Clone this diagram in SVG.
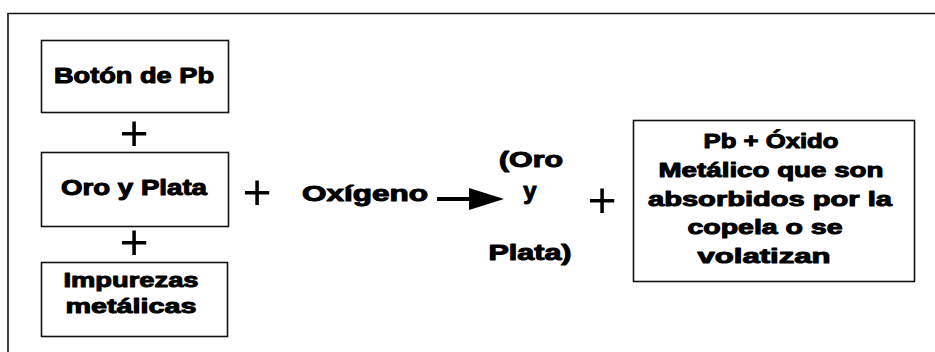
<svg xmlns="http://www.w3.org/2000/svg" width="935" height="352" viewBox="0 0 935 352">
<style>
.box{fill:#fff;stroke:#111;stroke-width:1.6}
.t{font-family:"Liberation Sans",Arial,sans-serif;font-weight:bold;fill:#000;stroke:#000;stroke-width:1;stroke-linejoin:round;text-anchor:middle}
.p{font-family:"Liberation Sans",Arial,sans-serif;font-weight:normal;font-size:50px;fill:#000;text-anchor:middle}
.frame{fill:none;stroke:#111;stroke-width:1.6}
</style>
<defs>
<marker id="ah" viewBox="0 0 35 22" markerWidth="35" markerHeight="22" refX="0" refY="11" orient="auto" markerUnits="userSpaceOnUse">
<path d="M0,0 L35,11 L0,22 Z" fill="#000"/>
</marker>
</defs>
<rect width="935" height="352" fill="#fff"/>
<g id="frame"><path class="frame" d="M8,352 L8,13.5 L935,13.5"/></g>

<g id="boton">
<rect class="box" x="41.5" y="40.5" width="187" height="72"/>
<text class="t" x="134" y="83" font-size="21.5" textLength="160" lengthAdjust="spacingAndGlyphs">Botón de Pb</text>
</g>
<g id="oroyplata">
<rect class="box" x="41.5" y="152.5" width="187" height="74"/>
<text class="t" x="134" y="195" font-size="21.5" textLength="146" lengthAdjust="spacingAndGlyphs">Oro y Plata</text>
</g>
<g id="impurezas">
<rect class="box" x="41.5" y="262.5" width="186" height="74"/>
<text class="t" x="131" y="287" font-size="21" textLength="135" lengthAdjust="spacingAndGlyphs">Impurezas</text>
<text class="t" x="131" y="313" font-size="21" textLength="131" lengthAdjust="spacingAndGlyphs">metálicas</text>
</g>
<g id="oxigeno">
<text class="t" x="365" y="201" font-size="21.5" textLength="126" lengthAdjust="spacingAndGlyphs">Oxígeno</text>
</g>
<g id="producto">
<text class="t" x="531" y="167" font-size="21.5" textLength="64" lengthAdjust="spacingAndGlyphs">(Oro</text>
<text class="t" x="530" y="199" font-size="24">y</text>
<text class="t" x="530" y="260" font-size="21.5" textLength="83" lengthAdjust="spacingAndGlyphs">Plata)</text>
</g>
<g id="residuo">
<rect class="box" x="633.5" y="120.5" width="281" height="161"/>
<text class="t" x="771" y="148" font-size="20.5" textLength="135" lengthAdjust="spacingAndGlyphs">Pb + Óxido</text>
<text class="t" x="771" y="177" font-size="20.5" textLength="225" lengthAdjust="spacingAndGlyphs">Metálico que son</text>
<text class="t" x="770" y="206" font-size="20.5" textLength="244" lengthAdjust="spacingAndGlyphs">absorbidos por la</text>
<text class="t" x="765" y="234" font-size="20.5" textLength="155" lengthAdjust="spacingAndGlyphs">copela o se</text>
<text class="t" x="764" y="263" font-size="20.5" textLength="133" lengthAdjust="spacingAndGlyphs">volatizan</text>
</g>
<g id="operadores">
<text class="p" x="134" y="150">+</text>
<text class="p" x="134" y="259">+</text>
<text class="p" x="257" y="209">+</text>
<text class="p" x="602" y="217">+</text>
</g>
<g id="connectors">
<line x1="437" y1="199" x2="469" y2="199" stroke="#000" stroke-width="4" marker-end="url(#ah)"/>
</g>
</svg>
